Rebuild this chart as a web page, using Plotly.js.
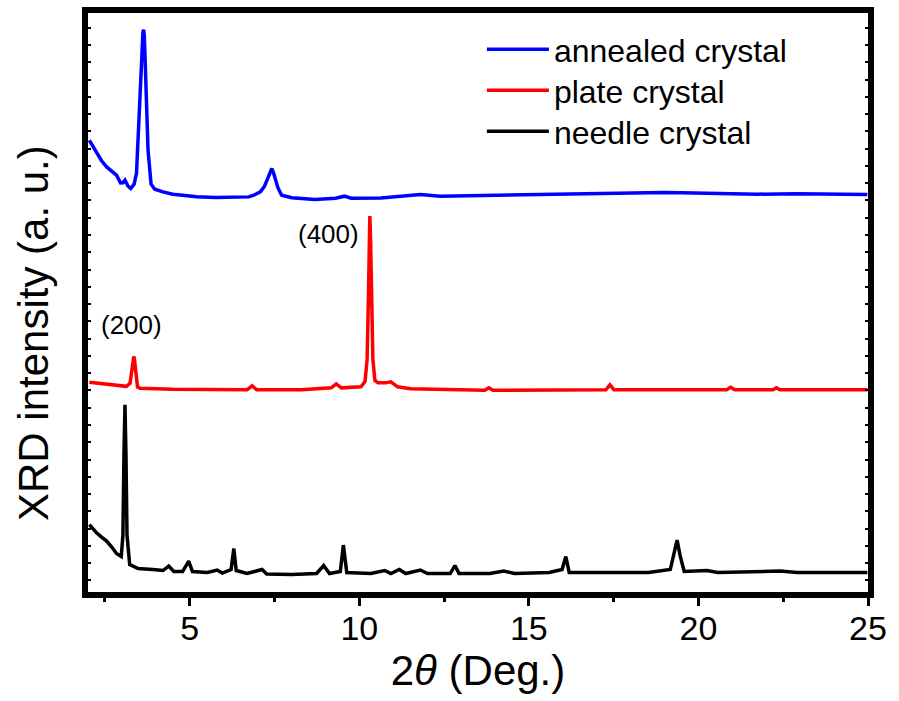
<!DOCTYPE html>
<html>
<head>
<meta charset="utf-8">
<script src="https://cdn.plot.ly/plotly-3.0.1.min.js"></script>
<style>html,body{margin:0;padding:0;background:#fff;}#chart{width:899px;height:701px;}</style>
</head>
<body>
<div id="chart"></div>
<script>
// 2theta (deg) and intensity (a.u., stacked/offset as in the figure)
const annealedX = [2.04,2.15,2.26,2.40,2.55,2.70,2.84,2.96,3.03,3.09,3.14,3.18,3.26,3.36,3.43,3.49,3.55,3.59,3.62,3.64,3.66,3.69,3.72,3.77,3.86,3.97,4.21,4.50,4.79,5.20,5.76,6.20,6.74,6.89,7.08,7.20,7.30,7.37,7.42,7.47,7.53,7.60,7.71,8.01,8.69,9.30,9.56,9.76,10.64,11.20,11.80,12.39,13.20,14.14,15.00,15.89,16.80,17.65,18.30,18.98,19.50,20.0,21.00,21.74,22.91,24.00,24.98];
const annealedY = [455.5,449,443.8,435,428.8,424,420.5,412.8,413,415.5,411,409.5,407.2,411.5,422.5,465.5,525.5,555,564,566.2,560,530,495.5,445.5,411.5,406.5,403.8,401.5,400.5,399,398.2,398.5,398.8,400.5,403.8,409,418,424.5,427.2,423,415,408,400.5,398,396.2,397.5,399.5,397.5,397.8,399,401.1,399.5,400,400.5,401,401.5,401.5,402,402.5,403.2,403,402.5,401.5,401.5,402,401.5,401.1];

const plateX = [2.04,2.45,3.13,3.24,3.29,3.33,3.35,3.37,3.41,3.46,3.53,4.50,6.69,6.84,6.98,8.30,9.17,9.32,9.47,10.05,10.17,10.23,10.27,10.29,10.31,10.33,10.36,10.40,10.46,10.55,10.78,10.93,11.13,11.51,13.70,13.82,13.94,17.27,17.39,17.51,20.83,20.95,21.07,22.20,22.30,22.40,24.98];
const plateY = [213,211.5,209,212,226,236,239,236,222,208.5,207,206,205.5,209.5,205.5,205.5,207.5,211.5,207.5,208.5,214,236,300,360,379.5,360,300,236,215,212.5,212.5,213.5,208.5,206.5,205,207.5,205,205.5,210.5,205.5,205.5,208,205.5,205.5,207.5,205.5,205.5];

const needleX = [2.04,2.15,2.26,2.40,2.55,2.70,2.84,2.98,3.03,3.06,3.09,3.12,3.15,3.23,3.48,3.91,4.21,4.38,4.53,4.79,4.97,5.08,5.52,5.81,5.96,6.22,6.30,6.37,6.69,7.13,7.27,8.01,8.74,8.95,9.12,9.44,9.53,9.63,10.34,10.75,10.93,11.18,11.37,11.80,12.01,12.68,12.82,12.94,13.85,14.26,14.58,15.60,15.98,16.09,16.19,17.07,18.53,19.17,19.29,19.37,19.46,19.58,20.25,20.57,22.41,22.91,24.98];
const needleY = [70.5,66,62,58,54,48,41.5,38.5,60,140,190.5,140,60,30.5,26.5,25.5,24.5,29,23.5,23.5,34,23.5,22.5,25,22,25.5,46.5,24.5,21.5,25.5,21,20.5,21.5,29.5,21.5,23.5,50,22.5,21.5,24.5,21.5,25.5,21.5,25,21.5,21.5,29.5,21.5,21.5,24,21.5,22.5,25.5,38.5,22.5,22.5,22.5,25.5,42.5,55,39.5,23.5,24.5,22.5,24,22.5,22.5];

const seriesNames = ['annealed crystal','plate crystal','needle crystal'];
const seriesColors = ['#0000ff','#ff0000','#000000'];
const xTickVals = [5,10,15,20,25];
const peakLabels = ['(200)','(400)'];
const peakLabelX = [3.27,9.09];
const peakLabelY = [270.5,361.5];

const FONT = 'Arial, "Liberation Sans", sans-serif';
const legendIds = ['legend','legend2','legend3'];
const legendTops = [0.9845,0.9137,0.8429];
const xs = [annealedX, plateX, needleX];
const ys = [annealedY, plateY, needleY];
const traces = xs.map((x,i)=>({
  x:x, y:ys[i], type:'scatter', mode:'lines', name:seriesNames[i], legend:legendIds[i],
  line:{color:seriesColors[i], width:3.5}
}));

const annotations = peakLabels.map((t,i)=>({x:peakLabelX[i], y:peakLabelY[i], xref:'x', yref:'y',
         text:t, showarrow:false, font:{family:FONT, size:26, color:'#000'}}));
annotations.push({xref:'paper', yref:'paper', x:-0.07, y:0.448, xanchor:'center', yanchor:'middle',
         textangle:-90, text:'XRD intensity (a. u.)', showarrow:false,
         font:{family:FONT, size:42, color:'#000'}});

const layout = {
  width:899, height:701,
  margin:{l:88, r:31, t:13, b:109},
  paper_bgcolor:'#fff', plot_bgcolor:'#fff',
  font:{family:FONT, color:'#000'},
  showlegend:true,
  xaxis:{range:[2,25], showgrid:false, zeroline:false,
         showline:true, linewidth:6, linecolor:'#000', mirror:true,
         tickvals:xTickVals, ticktext:xTickVals.map(String),
         ticks:'outside', ticklen:8, tickwidth:3, tickcolor:'#000',
         minor:{ticks:'outside', ticklen:4, tickwidth:3, tickcolor:'#000', dtick:2.5, tick0:0},
         ticklabelstandoff:-7,
         tickfont:{family:FONT, size:34, color:'#000'},
         title:{text:'2<i>θ</i> (Deg.)', font:{family:FONT, size:42, color:'#000'}, standoff:4}},
  yaxis:{range:[3,583], showgrid:false, zeroline:false,
         showline:true, linewidth:6, linecolor:'#000', mirror:'ticks',
         ticks:'inside', tick0:14.6, dtick:17.3, ticklen:3, tickwidth:2, tickcolor:'#000',
         showticklabels:false},
  annotations: annotations
};
legendIds.forEach((id,i)=>{
  layout[id] = {x:0.505, xanchor:'left', y:legendTops[i], yanchor:'top', bgcolor:'rgba(0,0,0,0)',
          font:{family:FONT, size:32, color:'#000'}, itemwidth:62};
});

Plotly.newPlot('chart', traces, layout, {displayModeBar:false, staticPlot:true});
</script>
</body>
</html>
